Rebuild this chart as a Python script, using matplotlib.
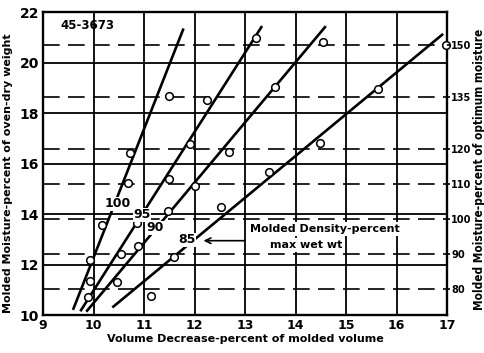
import numpy as np
import matplotlib
matplotlib.use("Agg")
import matplotlib.pyplot as plt

# volume decrease (%) vs molded moisture (% of oven-dry weight), by molded density
vol_100 = [9.93, 9.93, 10.17, 10.68, 10.72, 11.50]
mst_100 = [11.37, 12.20, 13.58, 15.24, 16.43, 18.68]
vol_95 = [9.89, 10.54, 10.86, 11.50, 11.91, 12.25, 13.22]
mst_95 = [10.73, 12.43, 13.66, 15.40, 16.78, 18.52, 20.97]
vol_90 = [10.47, 10.88, 11.48, 12.00, 12.68, 13.60, 14.54]
mst_90 = [11.33, 12.75, 14.13, 15.12, 16.47, 19.04, 20.81]
vol_85 = [11.14, 11.60, 12.52, 13.48, 14.49, 15.63, 16.98]
mst_85 = [10.77, 12.32, 14.30, 15.68, 16.82, 18.96, 20.70]

# hand-fitted trend lines (end points)
fit_100 = ([9.60, 11.77], [10.26, 21.30])
fit_95 = ([9.75, 13.32], [10.20, 21.40])
fit_90 = ([9.87, 14.58], [10.18, 21.40])
fit_85 = ([10.39, 16.90], [10.34, 21.10])

# optimum moisture content (% oven-dry) used for the right-hand scale
opt_moisture = 13.8
right_ticks = [80, 90, 100, 110, 120, 135, 150]

x_ticks = list(range(9, 18))
y_ticks = list(range(10, 23, 2))

fig = plt.figure(figsize=(4.85, 3.53), dpi=100)
ax = fig.add_axes([0.089, 0.107, 0.833, 0.859])
ax.set_xlim(9, 17)
ax.set_ylim(10, 22)

# solid grid
for xv in x_ticks[1:-1]:
    ax.axvline(xv, color='k', lw=1.3, zorder=1)
for yv in y_ticks[1:-1]:
    ax.axhline(yv, color='k', lw=1.3, zorder=1)

# dashed lines at percent-of-optimum values
for rv in right_ticks:
    ax.axhline(rv * opt_moisture / 100, color='k', lw=1.2,
               dashes=(10, 5), zorder=3)

series = [(vol_100, mst_100, fit_100, '100', (10.47, 14.41)),
          (vol_95, mst_95, fit_95, '95', (10.96, 13.98)),
          (vol_90, mst_90, fit_90, '90', (11.22, 13.46)),
          (vol_85, mst_85, fit_85, '85', (11.85, 12.99))]

for vx, vy, fit, lab, pos in series:
    ax.plot(fit[0], fit[1], color='k', lw=1.9, zorder=4)
    ax.plot(vx, vy, 'o', ms=5.5, mfc='white', mec='k', mew=1.1, zorder=5,
            clip_on=False)
    ax.text(pos[0], pos[1], lab, fontsize=9, fontweight='bold',
            ha='center', va='center', zorder=6,
            bbox=dict(facecolor='white', edgecolor='none', pad=0.3))

ax.text(9.35, 21.45, '45-3673', fontsize=8.5, fontweight='bold',
        ha='left', va='center', zorder=6)

# density legend note with leader arrow
ax.text(13.1, 13.42, 'Molded Density-percent', fontsize=8,
        fontweight='bold', ha='left', va='center', zorder=2,
        bbox=dict(facecolor='white', edgecolor='none', pad=1.5))
ax.text(13.5, 12.78, 'max wet wt', fontsize=8, fontweight='bold',
        ha='left', va='center', zorder=2,
        bbox=dict(facecolor='white', edgecolor='none', pad=1.5))
ax.annotate('', xy=(12.12, 12.95), xytext=(13.05, 12.95),
            arrowprops=dict(arrowstyle='->', color='k', lw=1.2), zorder=6)

ax.set_xticks(x_ticks)
ax.set_yticks(y_ticks)
ax.tick_params(axis='both', length=0, pad=3)
for t in ax.get_xticklabels():
    t.set_fontsize(9)
    t.set_fontweight('bold')
for t in ax.get_yticklabels():
    t.set_fontsize(10)
    t.set_fontweight('bold')
for s in ax.spines.values():
    s.set_linewidth(1.7)

ax.set_xlabel('Volume Decrease-percent of molded volume', fontsize=8,
              fontweight='bold', labelpad=1)
ax.set_ylabel('Molded Moisture-percent of oven-dry weight', fontsize=8,
              fontweight='bold', va='center')
ax.yaxis.set_label_coords(-0.087, 0.47)

# right-hand scale: percent of optimum moisture
ax2 = ax.twinx()
ax2.set_ylim(10 * 100 / opt_moisture, 22 * 100 / opt_moisture)
ax2.set_yticks(right_ticks)
ax2.tick_params(axis='y', length=2, width=1.2, pad=1)
for t in ax2.get_yticklabels():
    t.set_fontsize(7.8)
    t.set_fontweight('bold')
    t.set_fontstretch('condensed')
ax2.set_ylabel('Molded Moisture-percent of optimum moisture', fontsize=8.5,
               fontweight='bold', fontstretch='condensed', rotation=90,
               va='center')
ax2.yaxis.set_label_coords(1.08, 0.48)
for s in ax2.spines.values():
    s.set_visible(False)

fig.savefig('out.png', dpi=100)
